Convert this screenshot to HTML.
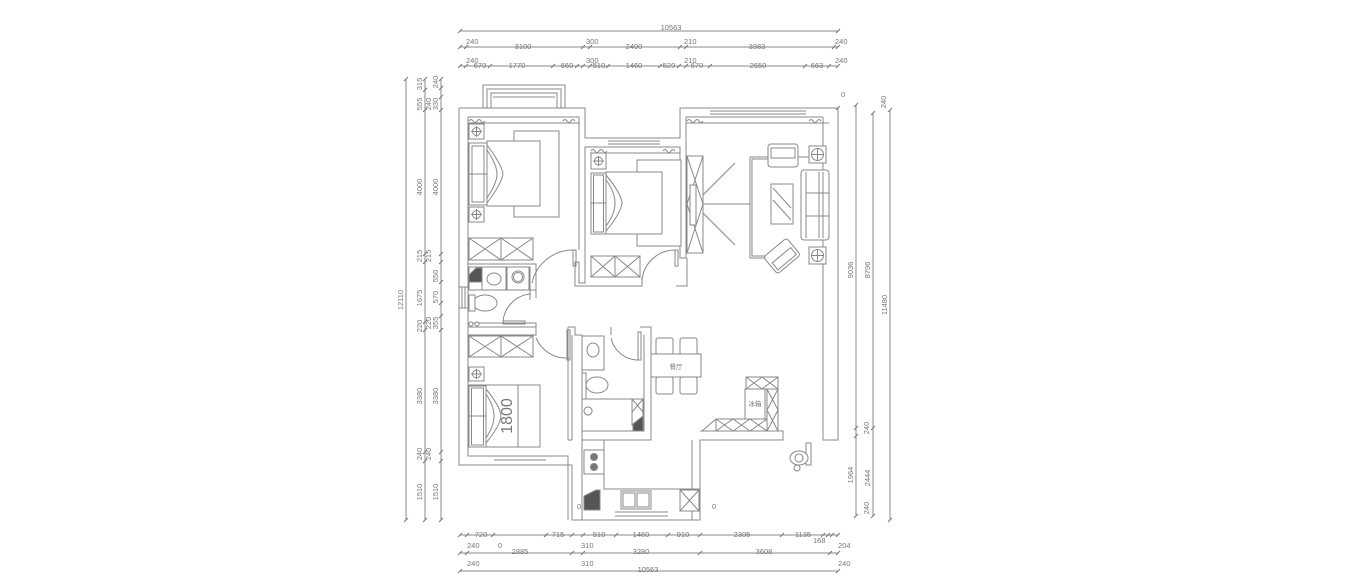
<!DOCTYPE html>
<html><head><meta charset="utf-8"><style>
html,body{margin:0;padding:0;background:#fff;}
svg{display:block}
text{font-family:"Liberation Sans","Noto Sans CJK SC",sans-serif;font-size:7.5px;fill:#777}
</style></head><body>
<svg width="1362" height="586" viewBox="0 0 1362 586" xmlns="http://www.w3.org/2000/svg">
<g fill="none" stroke="#8a8a8a" stroke-width="1">
<!-- top dims -->
<line x1="460" y1="31" x2="838" y2="31"/>
<line x1="460" y1="47" x2="838" y2="47"/>
<line x1="460" y1="66" x2="838" y2="66"/>
<g stroke="#777">
<path d="M458,33 l4,-4 M836,33 l4,-4"/>
<path d="M458,49l4,-4M464,49l4,-4M581,49l4,-4M588,49l4,-4M678,49l4,-4M684,49l4,-4M832,49l4,-4M836,49l4,-4"/>
<path d="M458,68l4,-4M464,68l4,-4M488,68l4,-4M551,68l4,-4M575,68l4,-4M581,68l4,-4M588,68l4,-4M606,68l4,-4M658,68l4,-4M677,68l4,-4M684,68l4,-4M708,68l4,-4M803,68l4,-4M827,68l4,-4M836,68l4,-4"/>
</g>
<!-- left dims -->
<line x1="406" y1="79" x2="406" y2="520"/>
<line x1="425" y1="79" x2="425" y2="520"/>
<line x1="441" y1="79" x2="441" y2="520"/>
<g stroke="#777">
<path d="M404,81l4,-4M404,522l4,-4"/>
<path d="M423,81l4,-4M423,92l4,-4M423,112l4,-4M423,256l4,-4M423,264l4,-4M423,324l4,-4M423,332l4,-4M423,454l4,-4M423,463l4,-4M423,522l4,-4"/>
<path d="M439,81l4,-4M439,90l4,-4M439,99l4,-4M439,112l4,-4M439,256l4,-4M439,264l4,-4M439,284l4,-4M439,305l4,-4M439,318l4,-4M439,332l4,-4M439,454l4,-4M439,463l4,-4M439,522l4,-4"/>
</g>
<!-- right dims -->
<line x1="856" y1="105" x2="856" y2="516"/>
<line x1="873" y1="113" x2="873" y2="516"/>
<line x1="890" y1="110" x2="890" y2="520"/>
<g stroke="#777">
<path d="M854,107l4,-4M854,430l4,-4M854,438l4,-4M854,518l4,-4M871,115l4,-4M871,430l4,-4M871,518l4,-4M888,112l4,-4M888,522l4,-4M836,110l4,-4"/>
</g>
<!-- bottom dims -->
<line x1="460" y1="535" x2="838" y2="535"/>
<line x1="460" y1="553" x2="838" y2="553"/>
<line x1="460" y1="571" x2="838" y2="571"/>
<g stroke="#777">
<path d="M458,537l4,-4M465,537l4,-4M491,537l4,-4M544,537l4,-4M570,537l4,-4M581,537l4,-4M614,537l4,-4M666,537l4,-4M698,537l4,-4M780,537l4,-4M821,537l4,-4M826,537l4,-4M830,537l4,-4M836,537l4,-4"/>
<path d="M458,555l4,-4M465,555l4,-4M570,555l4,-4M581,555l4,-4M698,555l4,-4M828,555l4,-4M836,555l4,-4M458,573l4,-4M836,573l4,-4"/>
</g>
</g>

<!-- walls -->
<g fill="none" stroke="#888" stroke-width="1">
<path d="M459,108 L585,108 L585,138 L680,138 L680,108 L838,108 L838,440 L823,440 L823,117"/>
<path d="M468,117 L579,117 L579,250 M579,262 L579,283 L585,283 L585,147 L680,147 L680,258 L686,258 L686,117 L823,117"/>
<path d="M459,108 L459,465 L572,465 L572,520 L700,520 L700,440 L783,440 L783,431 L700,431"/>
<path d="M468,117 L468,287 M468,305 L468,456 L568,456 L568,520"/>
<!-- balcony top left -->
<path d="M483,108 L483,85 L565,85 L565,108 M487,108 L487,89 L561,89 L561,108 M491,108 L491,93 L557,93 L557,108 M493,97 L555,97"/>
<!-- windows -->
<path d="M710,108 L806,108 M710,111 L806,111 M710,114 L806,114"/>
<path d="M608,138 L660,138 M608,141 L660,141 M608,144 L660,144"/>
<path d="M494,456 L546,456 M494,460 L546,460 M494,465 L546,465"/>
<path d="M615,512 L668,512 M615,516 L668,516"/>
<path d="M459,287 L468,287 L468,308 L459,308 M462,287 L462,308 M465,287 L465,308"/>
<!-- curtains -->
<path d="M469,121 q2,-3 4,0 q2,3 4,0 q2,-3 4,0 q2,3 4,0 M563,121 q2,-3 4,0 q2,3 4,0 q2,-3 4,0"/>
<path d="M591,151 q2,-3 4,0 q2,3 4,0 q2,-3 4,0 q2,3 4,0 M663,151 q2,-3 4,0 q2,3 4,0 q2,-3 4,0"/>
<path d="M687,121 q2,-3 4,0 q2,3 4,0 q2,-3 4,0 q2,3 4,0 M809,121 q2,-3 4,0 q2,3 4,0 q2,-3 4,0"/>
<line x1="468" y1="123" x2="579" y2="123"/><line x1="590" y1="153" x2="680" y2="153"/><line x1="686" y1="123" x2="829" y2="123"/>
<!-- bedroom2 bottom wall and inner -->
<path d="M575,283 L575,286 L642,286 L642,277 M676,286 L687,286 L687,258"/>
<path d="M579,262 L575,262 L575,283"/>
<!-- wet area walls -->
<path d="M468,264 L536,264 L536,290 L530,290 L530,300 M536,290 L536,298"/>
<path d="M468,323 L536,323 L536,327 L468,327"/>
<path d="M568,327 L568,440 M568,440 L572,440 M568,327 L575,327 L575,335 L582,335 M611,327 L611,335 M640,327 L651,327 L651,440 L582,440 L582,335 M644,335 L644,431 L582,431"/>
<path d="M582,440 L582,520 M692,440 L692,520"/>
<path d="M536,327 L536,335 L468,335"/>
<path d="M572,335 L572,440"/>
</g>

<!-- Bedroom 1 -->
<g fill="#fff" stroke="#888">
<rect x="469" y="124" width="15" height="15"/><circle cx="476.5" cy="131.5" r="4"/><path d="M476.5,126v11M471,131.5h11"/>
<rect x="469" y="207" width="15" height="15"/><circle cx="476.5" cy="214.5" r="4"/><path d="M476.5,209v11M471,214.5h11"/>
<rect x="514" y="131" width="45" height="86"/>
<rect x="487" y="141" width="53" height="65"/>
<rect x="469" y="143" width="18" height="62"/><line x1="469" y1="174" x2="487" y2="174"/><rect x="472" y="146" width="12" height="56" fill="none"/>
<path d="M487,145 q15,20 16,29 q-1,9 -16,29 M487,150 q10,15 10,24 q0,9 -10,24" fill="none"/>
<rect x="469" y="238" width="64" height="22"/><path d="M501,238v22M469,238l32,22M501,238l-32,22M501,238l32,22M533,238l-32,22" fill="none"/>
</g>
<!-- Bedroom 2 -->
<g fill="#fff" stroke="#888">
<rect x="591" y="153" width="15" height="16"/><circle cx="598.5" cy="161" r="4"/><path d="M598.5,156v10M593,161h11"/>
<rect x="637" y="160" width="44" height="86"/>
<rect x="606" y="172" width="56" height="62"/>
<rect x="591" y="173" width="15" height="61"/><line x1="591" y1="203" x2="606" y2="203"/><rect x="593.5" y="175" width="10" height="57" fill="none"/>
<path d="M606,175 q15,18 16,28 q-1,10 -16,28 M606,180 q9,12 9,23 q0,11 -9,23" fill="none"/>
<rect x="591" y="256" width="49" height="21"/><path d="M615,256v21M591,256l24,21M615,256l-24,21M615,256l25,21M640,256l-25,21" fill="none"/>
</g>
<!-- doors -->
<g fill="none" stroke="#888">
<path d="M532,283 A42,42 0 0 1 574,250"/><rect x="573" y="250" width="3" height="16"/>
<path d="M642,283 A33,33 0 0 1 675,250"/><rect x="675" y="250" width="3" height="16"/>
<path d="M503,322 A30,30 0 0 1 531,294"/><rect x="503" y="321" width="22" height="3"/>
<path d="M536,338 A33,33 0 0 0 569,358"/><rect x="567" y="330" width="3" height="30"/>
<path d="M611,338 A28,28 0 0 0 639,360"/><rect x="638" y="332" width="3" height="28"/>
</g>
<!-- laundry / wc -->
<g fill="#fff" stroke="#888">
<rect x="469" y="267" width="61" height="23"/>
<path d="M469,275 L476,268 L482,268 L482,282 L469,282 Z" fill="#555"/>
<rect x="482" y="267" width="24" height="23"/><ellipse cx="494" cy="279" rx="7" ry="6"/>
<rect x="507" y="267" width="22" height="23"/><circle cx="518" cy="277" r="6"/><circle cx="518" cy="277" r="4.5"/>
<ellipse cx="485" cy="303" rx="12" ry="8"/><rect x="469" y="295" width="6" height="16"/>
<circle cx="471" cy="324" r="2"/><circle cx="477" cy="324" r="2"/>
</g>
<!-- bedroom 3 -->
<g fill="#fff" stroke="#888">
<rect x="469" y="336" width="64" height="21"/><path d="M501,336v21M469,336l32,21M501,336l-32,21M501,336l32,21M533,336l-32,21" fill="none"/>
<rect x="469" y="367" width="15" height="14"/><circle cx="476.5" cy="374" r="4"/><path d="M476.5,369v10M471,374h11"/>
<path d="M469,385 L540,385 L540,447 L469,447 Z"/>
<line x1="518" y1="385" x2="518" y2="447"/>
<rect x="469" y="386" width="17" height="61"/><line x1="469" y1="416" x2="486" y2="416"/><rect x="471.5" y="388" width="12" height="57" fill="none"/>
<path d="M486,389 q14,17 15,27 q-1,10 -15,27 M486,394 q8,12 8,22 q0,10 -8,22" fill="none"/>
</g>
<text x="512" y="416" transform="rotate(-90 512 416)" text-anchor="middle" style="font-size:16px" fill="#888">1800</text>
<!-- bathroom 2 -->
<g fill="#fff" stroke="#888">
<rect x="582" y="336" width="22" height="34"/><ellipse cx="593" cy="350" rx="6" ry="7"/>
<rect x="582" y="373" width="4" height="26"/><ellipse cx="597" cy="385" rx="11" ry="8"/>
<line x1="582" y1="399" x2="644" y2="399"/>
<rect x="632" y="399" width="11" height="26"/><path d="M632,399l11,13M643,399l-11,13" fill="none"/>
<path d="M633,431 L633,424 L643,416 L643,431 Z" fill="#555"/>
<path d="M588,407 a4,4 0 1 0 0.1,0" fill="none"/>
</g>
<!-- kitchen -->
<g fill="#fff" stroke="#888">
<path d="M604,440 L604,489 L700,489" fill="none"/>
<rect x="584" y="450" width="20" height="24"/><circle cx="594" cy="457" r="3.5" fill="#777"/><circle cx="594" cy="467" r="3.5" fill="#777"/>
<path d="M584,510 L584,496 L596,490 L600,490 L600,510 Z" fill="#555"/>
<rect x="621" y="491" width="30" height="18"/><rect x="623" y="493" width="12" height="14"/><rect x="637" y="493" width="12" height="14"/>
<rect x="680" y="490" width="19" height="21"/><path d="M680,490l19,21M699,490l-19,21" fill="none"/>
</g>
<!-- dining -->
<g fill="#fff" stroke="#888">
<rect x="656" y="338" width="17" height="17" rx="2"/><rect x="680" y="338" width="17" height="17" rx="2"/>
<rect x="656" y="377" width="17" height="17" rx="2"/><rect x="680" y="377" width="17" height="17" rx="2"/>
<rect x="651" y="354" width="50" height="23"/>
</g>
<text x="676" y="369" text-anchor="middle" style="font-size:6.5px">餐厅</text>
<!-- fridge area -->
<g fill="#fff" stroke="#888">
<rect x="746" y="377" width="32" height="12"/><path d="M746,377l16,12M762,377l-16,12M762,377l16,12M778,377l-16,12" fill="none"/>
<rect x="745" y="389" width="20" height="30"/>
<rect x="767" y="389" width="11" height="42"/><path d="M767,389l11,21M778,389l-11,21M767,410l11,21M778,410l-11,21" fill="none"/>
<path d="M702,431 L716,419 L767,419 L767,431 Z"/><path d="M716,419 L716,431 M733,419l17,12M750,419l-17,12M716,419l17,12M733,419l-17,12M750,419l17,12M767,419l-17,12" fill="none"/>
</g>
<text x="755" y="406" text-anchor="middle" style="font-size:6.5px">冰箱</text>
<!-- living -->
<g fill="#fff" stroke="#888">
<rect x="687" y="156" width="16" height="97"/><path d="M687,156 L703,204 L687,253 M703,156 L687,204 L703,253" fill="none"/>
<rect x="690" y="185" width="6" height="40"/>
<path d="M703,204 L750,204 M703,195 L735,163 M703,213 L735,245" fill="none"/>
<path d="M750,157 L768,157 M798,157 L809,157 M750,157 L750,258 L774,258" fill="none"/>
<path d="M752,159 L768,159 M752,159 L752,256 L772,256" fill="none"/>
<rect x="768" y="144" width="30" height="23" rx="3"/><rect x="771" y="148" width="24" height="10"/>
<rect x="809" y="146" width="17" height="17"/><circle cx="817.5" cy="154.5" r="6"/><path d="M817.5,148v13M811,154.5h13" fill="none"/>
<rect x="809" y="247" width="17" height="17"/><circle cx="817.5" cy="255.5" r="6"/><path d="M817.5,249v13M811,255.5h13" fill="none"/>
<rect x="801" y="170" width="28" height="70" rx="3"/><path d="M806,172v66M819,172v66M823,172v66M806,193h23M806,216h23" fill="none"/>
<rect x="771" y="184" width="22" height="40"/><path d="M773,188 L791,208 M773,200 L791,220" fill="none"/>
<g transform="rotate(-40 782 256)"><rect x="767" y="245" width="30" height="22" rx="3"/><rect x="770" y="255" width="24" height="9"/></g>
</g>
<!-- person outside -->
<g fill="#fff" stroke="#888">
<rect x="806" y="443" width="5" height="22"/>
<ellipse cx="799" cy="458" rx="9" ry="7"/><circle cx="799" cy="458" r="4"/><circle cx="797" cy="468" r="3"/>
</g>
</g>

<!-- labels -->
<g>
<text x="671" y="30" text-anchor="middle">10563</text>
<text x="466" y="44">240</text><text x="523" y="49" text-anchor="middle">3100</text><text x="586" y="44">300</text><text x="634" y="49" text-anchor="middle">2490</text><text x="684" y="44">210</text><text x="757" y="49" text-anchor="middle">3983</text><text x="835" y="44">240</text>
<text x="466" y="63">240</text><text x="480" y="68" text-anchor="middle">670</text><text x="517" y="68" text-anchor="middle">1770</text><text x="567" y="68" text-anchor="middle">660</text><text x="586" y="63">300</text><text x="599" y="68" text-anchor="middle">510</text><text x="634" y="68" text-anchor="middle">1460</text><text x="669" y="68" text-anchor="middle">520</text><text x="684" y="63">210</text><text x="697" y="68" text-anchor="middle">670</text><text x="758" y="68" text-anchor="middle">2650</text><text x="817" y="68" text-anchor="middle">663</text><text x="835" y="63">240</text>
<text x="841" y="97">0</text>
<g text-anchor="middle">
<text transform="translate(403,300) rotate(-90)">12110</text>
<text transform="translate(422,84) rotate(-90)">315</text><text transform="translate(422,104) rotate(-90)">555</text><text transform="translate(422,187) rotate(-90)">4000</text><text transform="translate(422,256) rotate(-90)">215</text><text transform="translate(422,298) rotate(-90)">1675</text><text transform="translate(422,326) rotate(-90)">220</text><text transform="translate(422,396) rotate(-90)">3380</text><text transform="translate(422,454) rotate(-90)">240</text><text transform="translate(422,492) rotate(-90)">1510</text>
<text transform="translate(438,82) rotate(-90)">240</text><text transform="translate(431,104) rotate(-90)">240</text><text transform="translate(438,104) rotate(-90)">330</text><text transform="translate(438,187) rotate(-90)">4000</text><text transform="translate(431,256) rotate(-90)">215</text><text transform="translate(438,276) rotate(-90)">550</text><text transform="translate(438,297) rotate(-90)">570</text><text transform="translate(431,323) rotate(-90)">220</text><text transform="translate(438,323) rotate(-90)">355</text><text transform="translate(438,396) rotate(-90)">3380</text><text transform="translate(431,454) rotate(-90)">240</text><text transform="translate(438,492) rotate(-90)">1510</text>
<text transform="translate(853,270) rotate(-90)">9036</text><text transform="translate(869,428) rotate(-90)">240</text><text transform="translate(853,475) rotate(-90)">1964</text><text transform="translate(869,508) rotate(-90)">240</text>
<text transform="translate(870,270) rotate(-90)">8796</text><text transform="translate(886,102) rotate(-90)">240</text><text transform="translate(870,478) rotate(-90)">2444</text>
<text transform="translate(887,305) rotate(-90)">11480</text>
</g>
<text x="481" y="537" text-anchor="middle">720</text><text x="558" y="537" text-anchor="middle">715</text><text x="599" y="537" text-anchor="middle">910</text><text x="641" y="537" text-anchor="middle">1460</text><text x="683" y="537" text-anchor="middle">910</text><text x="742" y="537" text-anchor="middle">2305</text><text x="803" y="537" text-anchor="middle">1135</text><text x="813" y="543">168</text><text x="838" y="548">204</text>
<text x="467" y="548">240</text><text x="498" y="548">0</text><text x="581" y="548">310</text>
<text x="520" y="554" text-anchor="middle">2885</text><text x="641" y="554" text-anchor="middle">3280</text><text x="764" y="554" text-anchor="middle">3608</text>
<text x="467" y="566">240</text><text x="581" y="566">310</text><text x="838" y="566">240</text>
<text x="648" y="572" text-anchor="middle">10563</text>
<text x="577" y="509">0</text><text x="712" y="509">0</text>
</g>
</svg>
</body></html>
